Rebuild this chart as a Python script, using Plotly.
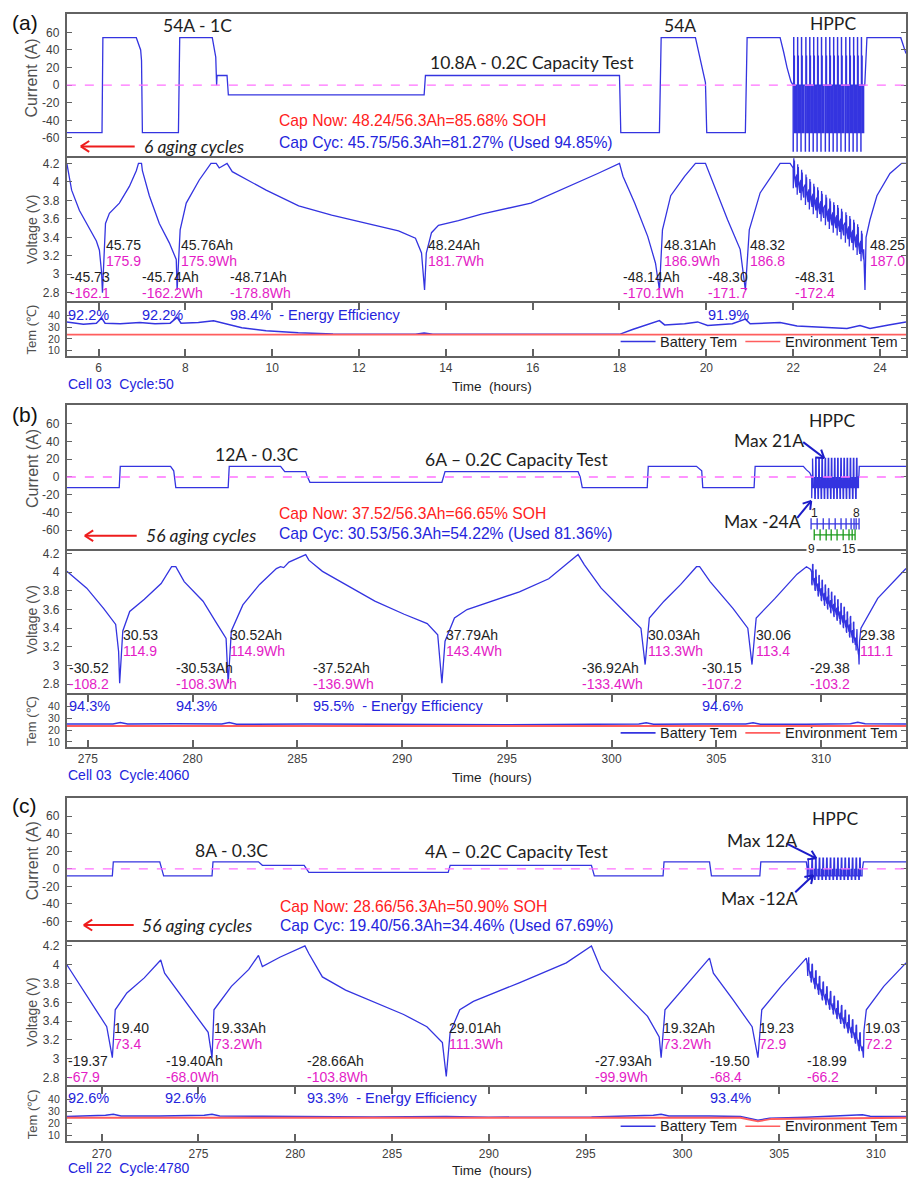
import math
import plotly.graph_objects as go

W, H = 908, 1180
LEFT = 67
ARIAL = "Liberation Sans, Arial, sans-serif"
CAL = "Lato, Carlito, Calibri, sans-serif"
FRAME = "#626262"
BLUE = "#3434e0"
RED_LINE = "#ff5e5e"
TXT_BLUE = "#2424dc"
TXT_RED = "#ff2020"
MAG = "#e41cc6"
DARK = "#1e1e1e"

# ======================= panel (a) data =======================
a_xrange = [5.27, 24.6]
a_vrange = [2.714, 4.254]
a_trange = [5.7, 51.1]
a_xticks = [6, 8, 10, 12, 14, 16, 18, 20, 22, 24]

a_cur_t = [5.27, 6.08, 6.10, 6.87, 6.97, 6.99, 7.01, 7.84, 7.87, 8.62, 8.70, 8.72, 8.73, 8.96, 8.99,
           13.50, 13.53, 18.00, 18.03, 18.92, 18.96, 19.75, 19.82, 19.90, 19.98, 20.01, 20.90, 20.94,
           21.70, 21.78, 21.86, 21.95]
a_cur_v = [-54, -54, 54, 54, 40, 28, -54, -54, 54, 54, 32, 0, 11, 11, -11,
           -11, 11, 11, -54, -54, 54, 54, 38, 20, 3, -54, -54, 54,
           54, 38, 20, 4]
a_hppc_t = [22.00, 22.09, 22.18, 22.28, 22.37, 22.46, 22.55, 22.64, 22.74, 22.83, 22.92, 23.01,
            23.10, 23.20, 23.29, 23.38, 23.47, 23.56]
a_hppc_base = [4.15, 4.08, 4.02, 3.97, 3.92, 3.87, 3.83, 3.79, 3.75, 3.71, 3.67, 3.64,
               3.60, 3.56, 3.52, 3.48, 3.43, 3.36, 3.30]
a_pulse_dt = [0, 0, 0.004, 0.004, 0.012, 0.012, 0.016, 0.016, 0.024, 0.024, 0.030, 0.030, 0.035, 0.035, 0.065, 0.065]
a_pulse_i = [0, -75, -75, 0, 0, 54, 54, 0, 0, 33, 33, 0, 0, -54, -54, 0]
a_pulse_vdt = [0, 0, 0.004, 0.004, 0.012, 0.012, 0.016, 0.016, 0.024, 0.024, 0.030, 0.030, 0.035]
a_pulse_dv = [0, -0.20, -0.22, -0.04, -0.02, 0.10, 0.11, 0.03, 0.02, 0.07, 0.08, 0.02, -0.10]
a_cur_tail_t = [23.65, 23.70, 24.48, 24.6]
a_cur_tail_v = [0, 54, 54, 36]

a_volt_t = [5.27, 5.38, 5.56, 5.79, 5.95, 6.02, 6.07, 6.09, 6.14, 6.16, 6.25, 6.48, 6.71, 6.87, 6.92,
            6.99, 7.01, 7.17, 7.40, 7.63, 7.79, 7.81, 7.88, 8.02, 8.32, 8.59, 8.71, 8.78, 8.96, 9.08,
            9.86, 10.61, 11.37, 12.15, 12.91, 13.30, 13.44, 13.51, 13.55, 13.67, 13.83, 14.29, 14.82,
            15.96, 16.74, 17.50, 18.00, 18.08, 18.35, 18.65, 18.83, 18.92, 18.99, 19.18, 19.50, 19.75,
            19.98, 20.19, 20.49, 20.78, 20.90, 20.99, 21.24, 21.70, 21.93]
a_volt_v = [4.20, 3.91, 3.69, 3.50, 3.36, 3.26, 3.02, 2.80, 3.23, 3.55, 3.66, 3.77, 3.95, 4.12, 4.20,
            4.20, 4.12, 3.85, 3.55, 3.34, 3.16, 2.83, 3.48, 3.77, 4.02, 4.20, 4.20, 4.15, 4.20, 4.11,
            3.91, 3.74, 3.64, 3.55, 3.47, 3.39, 3.23, 2.83, 3.23, 3.45, 3.53, 3.58, 3.65,
            3.77, 3.93, 4.09, 4.20, 4.06, 3.77, 3.41, 3.12, 2.83, 3.48, 3.85, 4.06, 4.20,
            4.20, 3.95, 3.59, 3.27, 2.83, 3.48, 3.88, 4.20, 4.20]
a_volt_tail_t = [23.63, 23.655, 23.68, 23.77, 23.93, 24.23, 24.50, 24.6]
a_volt_tail_v = [3.20, 2.83, 3.40, 3.59, 3.85, 4.09, 4.20, 4.20]

a_bt_t = [5.27, 5.65, 5.95, 6.07, 6.15, 6.5, 6.95, 7.3, 7.65, 7.81, 7.9, 8.3, 8.65, 8.9, 9.3, 9.86,
          10.6, 11.4, 12.5, 13.3, 13.5, 13.7, 15.0, 17.0, 18.0, 18.3, 18.65, 18.92, 19.04, 19.5,
          19.8, 20.03, 20.6, 20.9, 21.01, 21.7, 22.09, 22.7, 23.24, 23.54, 23.77, 24.2, 24.6]
a_bt_v = [34.5, 32.6, 33.5, 38, 33.5, 33, 34, 33, 33.5, 38.5, 33.5, 34, 35.5, 33, 29.5, 27,
          25.2, 24.2, 23.9, 24, 25, 24, 23.9, 23.9, 23.9, 28, 32, 35.7, 32, 33,
          34.6, 31.5, 33, 37, 33, 34, 31, 30, 29, 31.5, 29, 32, 34.5]
a_env_t = [5.27, 24.6]
a_env_v = [23.7, 23.7]

# ======================= panel (b) data =======================
b_xrange = [274.0, 314.05]
b_vrange = [2.704, 4.232]
b_trange = [5.8, 50.0]
b_xticks = [275, 280, 285, 290, 295, 300, 305, 310]

b_cur_t = [274.0, 276.5, 276.55, 278.95, 279.1, 279.2, 281.7, 281.75, 284.2, 284.4, 285.4, 285.45,
           285.6, 291.9, 292.05, 298.4, 298.5, 298.6, 301.7, 301.75, 304.05, 304.3, 304.35, 306.8,
           306.85, 309.15, 309.3, 309.45]
b_cur_v = [-12, -12, 12, 12, 7, -12, -12, 12, 12, 6, 6, 2,
           -6, -6, 6, 6, 0, -12, -12, 12, 12, 7, -12, -12,
           12, 12, 8, 5]
b_hppc_t = [309.55, 309.70, 309.85, 310.00, 310.15, 310.30, 310.45, 310.60, 310.75, 310.90,
            311.05, 311.20, 311.35, 311.50, 311.65]
b_hppc_base = [4.00, 3.94, 3.88, 3.83, 3.78, 3.74, 3.70, 3.66, 3.62, 3.58, 3.54, 3.49, 3.44, 3.38, 3.30, 3.20]
b_pulse_dt = [0, 0, 0.02, 0.02, 0.04, 0.04, 0.06, 0.06, 0.07, 0.07, 0.13, 0.13]
b_pulse_i = [0, -24, -24, 0, 0, 21, 21, 0, 0, -12, -12, 0]
b_pulse_vdt = [0, 0, 0.02, 0.02, 0.04, 0.04, 0.06, 0.06, 0.07, 0.07]
b_pulse_dv = [0, -0.12, -0.14, -0.03, -0.01, 0.08, 0.09, 0.02, 0.01, -0.06]
b_cur_tail_t = [311.80, 311.82, 314.05]
b_cur_tail_v = [0, 12, 12]

b_volt_t = [274.0, 274.95, 275.76, 276.33, 276.47, 276.52, 276.67, 277.0, 277.7, 278.5,
            279.0, 279.2, 279.6, 280.5, 281.1, 281.6, 281.7, 281.85, 282.4, 283.2,
            284.0, 284.2, 284.35, 284.6, 285.4, 285.55, 286.2, 287.3, 288.7, 290.1,
            291.2, 291.7, 291.9, 292.05, 292.5, 293.1, 295.6, 297.0, 298.4, 298.7,
            299.5, 300.6, 301.4, 301.6, 301.8, 302.5, 303.3, 304.05, 304.2, 304.7,
            305.8, 306.5, 306.7, 306.9, 307.8, 308.85, 309.3, 309.5]
b_volt_v = [4.01, 3.83, 3.61, 3.44, 3.15, 2.81, 3.37, 3.58, 3.71, 3.88,
            4.06, 4.06, 3.90, 3.69, 3.47, 3.29, 2.81, 3.37, 3.65, 3.87,
            4.04, 4.06, 4.05, 4.11, 4.19, 4.13, 4.01, 3.87, 3.69, 3.55,
            3.45, 3.33, 2.81, 3.26, 3.51, 3.60, 3.79, 3.93, 4.19, 4.08,
            3.83, 3.58, 3.40, 3.01, 3.51, 3.69, 3.87, 4.06, 4.06, 3.90,
            3.61, 3.40, 3.01, 3.51, 3.72, 3.98, 4.06, 4.03]
b_volt_tail_t = [311.79, 311.81, 311.83, 311.90, 312.70, 314.05]
b_volt_tail_v = [3.10, 3.01, 3.25, 3.40, 3.72, 4.04]

b_bt_t = [274.0, 276.2, 276.55, 276.9, 279.2, 281.4, 281.75, 282.1, 285.5, 290.0, 291.9, 295.0,
          298.4, 301.3, 301.65, 302.0, 304.3, 306.4, 306.75, 307.1, 309.3, 311.4, 311.75, 312.1, 314.05]
b_bt_v = [25.2, 25.3, 26.5, 25.2, 25.5, 25.3, 26.6, 25.0, 25.3, 24.5, 24.8, 24.6,
          25.0, 25.2, 26.3, 25.0, 25.3, 25.2, 26.3, 25.0, 25.0, 25.5, 26.8, 25.5, 25.3]
b_env_t = [274.0, 314.05]
b_env_v = [23.6, 23.6]
b_mark1_t = [309.52, 309.81, 310.10, 310.38, 310.67, 310.95, 311.19, 311.43, 311.57, 311.67, 311.81]
b_mark2_t = [309.67, 309.95, 310.24, 310.48, 310.76, 311.05, 311.33, 311.48, 311.62]

# ======================= panel (c) data =======================
c_xrange = [268.2, 311.55]
c_vrange = [2.715, 4.242]
c_trange = [5.1, 49.7]
c_xticks = [270, 275, 280, 285, 290, 295, 300, 305, 310]

c_cur_t = [268.2, 270.55, 270.6, 273.0, 273.2, 275.7, 275.75, 278.1, 278.3, 280.46, 280.7, 287.9,
           288.0, 295.3, 295.45, 299.0, 299.05, 301.4, 301.5, 304.0, 304.05, 306.4]
c_cur_v = [-8, -8, 8, 8, -8, -8, 8, 8, 4, 4, -4, -4,
           4, 4, -8, -8, 8, 8, -8, -8, 8, 8]
c_hppc_t = [306.45, 306.64, 306.83, 307.02, 307.21, 307.40, 307.59, 307.78, 307.97, 308.16,
            308.35, 308.54, 308.73, 308.92, 309.11]
c_hppc_base = [4.00, 3.93, 3.86, 3.80, 3.74, 3.69, 3.64, 3.59, 3.54, 3.49, 3.44, 3.39, 3.34, 3.28, 3.20, 3.15]
c_pulse_dt = [0, 0, 0.025, 0.025, 0.05, 0.05, 0.075, 0.075, 0.09, 0.09, 0.17, 0.17]
c_pulse_i = [0, -12, -12, 0, 0, 12, 12, 0, 0, -8, -8, 0]
c_pulse_vdt = [0, 0, 0.025, 0.025, 0.05, 0.05, 0.075, 0.075, 0.09, 0.09]
c_pulse_dv = [0, -0.10, -0.12, -0.03, -0.01, 0.07, 0.08, 0.02, 0.01, -0.05]
c_cur_tail_t = [309.30, 309.35, 311.55]
c_cur_tail_v = [0, 8, 8]

c_volt_t = [268.2, 268.9, 269.7, 270.26, 270.55, 270.7, 271.3, 272.2, 272.9, 273.05,
            273.25, 274.0, 274.9, 275.5, 275.7, 275.8, 276.7, 277.6, 278.1, 278.3,
            279.2, 280.5, 280.7, 281.4, 282.6, 284.1, 285.6, 286.8, 287.6, 287.8,
            288.0, 288.5, 289.2, 291.6, 294.0, 295.3, 295.8, 297.0, 298.2, 298.8,
            298.9, 299.1, 300.0, 300.9, 301.4, 301.6, 302.6, 303.6, 303.9, 304.1,
            305.1, 306.1, 306.4]
c_volt_v = [4.00, 3.77, 3.52, 3.34, 3.01, 3.52, 3.70, 3.86, 4.02, 4.05,
            3.91, 3.70, 3.45, 3.28, 3.01, 3.52, 3.77, 3.95, 4.10, 3.98,
            4.08, 4.20, 4.12, 3.87, 3.73, 3.60, 3.47, 3.34, 3.17, 2.81,
            3.28, 3.52, 3.61, 3.81, 4.02, 4.20, 3.95, 3.70, 3.45, 3.23,
            3.01, 3.52, 3.73, 3.95, 4.07, 3.91, 3.63, 3.34, 3.01, 3.52,
            3.77, 4.00, 4.07]
c_volt_tail_t = [309.30, 309.35, 309.38, 309.50, 310.40, 311.55]
c_volt_tail_v = [3.12, 3.01, 3.30, 3.52, 3.77, 4.02]

c_bt_t = [268.2, 270.2, 270.6, 271.0, 273.0, 275.3, 275.7, 276.1, 278.3, 280.5, 284.0, 287.8, 290.0,
          295.3, 298.5, 298.9, 299.3, 301.4, 303.0, 303.9, 304.5, 306.4, 308.5, 309.3, 309.7, 311.55]
c_bt_v = [25.5, 26.5, 27.5, 26.0, 26.0, 26.5, 27.5, 26.0, 25.8, 25.5, 25.2, 25.5, 25.0,
          25.2, 26.5, 27.5, 26.0, 26.0, 25.5, 22.5, 24.0, 25.0, 26.0, 27.0, 25.8, 25.5]
c_env_t = [268.2, 303.0, 303.9, 304.6, 311.55]
c_env_v = [24.5, 24.5, 21.5, 23.5, 24.5]

# ======================= text data =======================
a_volt_labels = [("45.75", 105, 242, DARK), ("175.9", 105, 258, MAG), ("-45.73", 69, 274, DARK), ("-162.1", 69, 290, MAG),
                 ("45.76Ah", 180, 242, DARK), ("175.9Wh", 180, 258, MAG), ("-45.74Ah", 141, 274, DARK), ("-162.2Wh", 141, 290, MAG),
                 ("-48.71Ah", 230, 274, DARK), ("-178.8Wh", 230, 290, MAG), ("48.24Ah", 428, 242, DARK), ("181.7Wh", 428, 258, MAG),
                 ("-48.14Ah", 623, 274, DARK), ("-170.1Wh", 623, 290, MAG), ("48.31Ah", 664, 242, DARK), ("186.9Wh", 664, 258, MAG),
                 ("-48.30", 709, 274, DARK), ("-171.7", 709, 290, MAG), ("48.32", 751, 242, DARK), ("186.8", 751, 258, MAG),
                 ("-48.31", 796, 274, DARK), ("-172.4", 796, 290, MAG), ("48.25", 871, 242, DARK), ("187.0", 871, 258, MAG)]
a_eff_labels = [("92.2%", 67, 312), ("92.2%", 141, 312), ("98.4%  - Energy Efficiency", 230, 312), ("91.9%", 709, 312)]

b_volt_labels = [("30.53", 122, 634, DARK), ("114.9", 122, 650, MAG), ("-30.52", 68, 667, DARK), ("-108.2", 68, 683, MAG),
                 ("30.52Ah", 230, 634, DARK), ("114.9Wh", 230, 650, MAG), ("-30.53Ah", 175, 667, DARK), ("-108.3Wh", 175, 683, MAG),
                 ("37.79Ah", 446, 634, DARK), ("143.4Wh", 446, 650, MAG), ("-37.52Ah", 313, 667, DARK), ("-136.9Wh", 313, 683, MAG),
                 ("30.03Ah", 648, 634, DARK), ("113.3Wh", 648, 650, MAG), ("-36.92Ah", 582, 667, DARK), ("-133.4Wh", 582, 683, MAG),
                 ("30.06", 757, 634, DARK), ("113.4", 757, 650, MAG), ("-30.15", 703, 667, DARK), ("-107.2", 703, 683, MAG),
                 ("29.38", 861, 634, DARK), ("111.1", 861, 650, MAG), ("-29.38", 811, 667, DARK), ("-103.2", 811, 683, MAG)]
b_eff_labels = [("94.3%", 68, 705), ("94.3%", 175, 705), ("95.5%  - Energy Efficiency", 313, 705), ("94.6%", 703, 705)]

c_volt_labels = [("19.40", 113, 1028, DARK), ("73.4", 113, 1044, MAG), ("-19.37", 67, 1061, DARK), ("-67.9", 67, 1078, MAG),
                 ("19.33Ah", 213, 1028, DARK), ("73.2Wh", 213, 1044, MAG), ("-19.40Ah", 165, 1061, DARK), ("-68.0Wh", 165, 1078, MAG),
                 ("-28.66Ah", 307, 1061, DARK), ("-103.8Wh", 307, 1078, MAG), ("29.01Ah", 449, 1028, DARK), ("111.3Wh", 449, 1044, MAG),
                 ("-27.93Ah", 595, 1061, DARK), ("-99.9Wh", 595, 1078, MAG), ("19.32Ah", 663, 1028, DARK), ("73.2Wh", 663, 1044, MAG),
                 ("-19.50", 711, 1061, DARK), ("-68.4", 711, 1078, MAG), ("19.23", 760, 1028, DARK), ("72.9", 760, 1044, MAG),
                 ("-18.99", 808, 1061, DARK), ("-66.2", 808, 1078, MAG), ("19.03", 866, 1028, DARK), ("72.2", 866, 1044, MAG)]
c_eff_labels = [("92.6%", 67, 1099), ("92.6%", 164, 1099), ("93.3%  - Energy Efficiency", 307, 1099), ("93.4%", 711, 1099)]

# ======================= helpers =======================
def px(x):
    return x / W


def py(y):
    return 1 - y / H


def pulse_current(times, dts, levels):
    xs, ys = [], []
    for t in times:
        xs.extend(t + d for d in dts)
        ys.extend(levels)
    return xs, ys


def pulse_voltage(times, bases, dts, dvs, step_dt, step_dv, settle_dv):
    xs, ys = [], []
    for k, t in enumerate(times):
        v, vn = bases[k], bases[k + 1]
        xs.extend(t + d for d in dts)
        ys.extend(v + d for d in dvs)
        xs += [t + step_dt, t + step_dt]
        ys += [vn + step_dv, vn + settle_dv]
    return xs, ys


fig = go.Figure()
ann = []
shapes = []


def text(s, x, y, color=DARK, size=14, family=ARIAL, xanchor="left"):
    ann.append(dict(text=s, x=px(x), y=py(y), xref="paper", yref="paper", xanchor=xanchor,
                    yanchor="middle", showarrow=False, borderpad=0,
                    font=dict(family=family, size=size, color=color)))


def line_px(x0, y0, x1, y1, color, width):
    shapes.append(dict(type="line", xref="paper", yref="paper", x0=px(x0), y0=py(y0), x1=px(x1), y1=py(y1),
                       line=dict(color=color, width=width)))


def arrow(x0, y0, x1, y1, color, width=2, head=9):
    line_px(x0, y0, x1, y1, color, width)
    ang = math.atan2(y1 - y0, x1 - x0)
    for s in (1, -1):
        a = ang + math.pi + s * math.radians(33)
        line_px(x1, y1, x1 + head * math.cos(a), y1 + head * math.sin(a), color, width)


def legend(y):
    line_px(622, y, 657, y, BLUE, 1.6)
    text("Battery Tem", 660, y, DARK, 14.5)
    line_px(747, y, 782, y, RED_LINE, 1.6)
    text("Environment Tem", 786, y, DARK, 14.5)


rows = {
    "a": [(10, 153), (155, 298), (300, 353)],
    "b": [(403, 547), (549, 692), (694, 746)],
    "c": [(797, 940), (942, 1086), (1088, 1142)],
}

panels = [
    dict(key="a", xr=a_xrange, vr=a_vrange, tr=a_trange, xt=a_xticks,
         cur=pulse_current(a_hppc_t, a_pulse_dt, a_pulse_i),
         volt=pulse_voltage(a_hppc_t, a_hppc_base, a_pulse_vdt, a_pulse_dv, 0.065, -0.14, -0.03),
         c0=(a_cur_t, a_cur_v), c1=(a_cur_tail_t, a_cur_tail_v),
         v0=(a_volt_t, a_volt_v), v1=(a_volt_tail_t, a_volt_tail_v),
         bt=(a_bt_t, a_bt_v), env=(a_env_t, a_env_v)),
    dict(key="b", xr=b_xrange, vr=b_vrange, tr=b_trange, xt=b_xticks,
         cur=pulse_current(b_hppc_t, b_pulse_dt, b_pulse_i),
         volt=pulse_voltage(b_hppc_t, b_hppc_base, b_pulse_vdt, b_pulse_dv, 0.13, -0.08, -0.02),
         c0=(b_cur_t, b_cur_v), c1=(b_cur_tail_t, b_cur_tail_v),
         v0=(b_volt_t, b_volt_v), v1=(b_volt_tail_t, b_volt_tail_v),
         bt=(b_bt_t, b_bt_v), env=(b_env_t, b_env_v)),
    dict(key="c", xr=c_xrange, vr=c_vrange, tr=c_trange, xt=c_xticks,
         cur=pulse_current(c_hppc_t, c_pulse_dt, c_pulse_i),
         volt=pulse_voltage(c_hppc_t, c_hppc_base, c_pulse_vdt, c_pulse_dv, 0.17, -0.07, -0.02),
         c0=(c_cur_t, c_cur_v), c1=(c_cur_tail_t, c_cur_tail_v),
         v0=(c_volt_t, c_volt_v), v1=(c_volt_tail_t, c_volt_tail_v),
         bt=(c_bt_t, c_bt_v), env=(c_env_t, c_env_v)),
]

layout_axes = {}
tickfont = dict(family=ARIAL, size=12, color="#404040")
tickfont_small = dict(family=ARIAL, size=10.5, color="#404040")

for p, P in enumerate(panels):
    yr_list = [[-81, 81], P["vr"], P["tr"]]
    ytv = [[-60, -40, -20, 0, 20, 40, 60],
           [2.8, 3.0, 3.2, 3.4, 3.6, 3.8, 4.0, 4.2],
           [10, 20, 30, 40]]
    ytt = [["-60", "-40", "-20", "0", "20", "40", "60"],
           ["2.8", "3", "3.2", "3.4", "3.6", "3.8", "4", "4.2"],
           ["10", "20", "30", "40"]]
    for r in range(3):
        i = p * 3 + r + 1
        top, bot = rows[P["key"]][r]
        xa = dict(domain=[LEFT / W, 1.0], range=P["xr"], anchor=f"y{i}", showline=True,
                  linecolor=FRAME, linewidth=2, showgrid=False, zeroline=False)
        if r == 2:
            xa.update(mirror="ticks", ticks="inside", ticklen=7, tickwidth=1.5, tickcolor=FRAME,
                      tickvals=P["xt"], ticktext=[str(v) for v in P["xt"]], tickfont=tickfont,
                      ticklabelstandoff=0)
        else:
            xa.update(mirror=True, ticks="", showticklabels=False)
        ya = dict(domain=[py(bot), py(top)], range=yr_list[r], anchor=f"x{i}", showline=True,
                  mirror="ticks", linecolor=FRAME, linewidth=2, showgrid=False, zeroline=False,
                  ticks="inside", ticklen=5, tickwidth=1.2, tickcolor=FRAME,
                  tickvals=ytv[r], ticktext=ytt[r],
                  tickfont=tickfont_small if r == 2 else tickfont, ticklabelstandoff=3)
        layout_axes["xaxis" if i == 1 else f"xaxis{i}"] = xa
        layout_axes["yaxis" if i == 1 else f"yaxis{i}"] = ya

    ic, iv, it = p * 3 + 1, p * 3 + 2, p * 3 + 3
    xc = "x" if ic == 1 else f"x{ic}"
    yc = "y" if ic == 1 else f"y{ic}"
    cx = list(P["c0"][0]) + P["cur"][0] + list(P["c1"][0])
    cy = list(P["c0"][1]) + P["cur"][1] + list(P["c1"][1])
    vx = list(P["v0"][0]) + P["volt"][0] + list(P["v1"][0])
    vy = list(P["v0"][1]) + P["volt"][1] + list(P["v1"][1])
    fig.add_trace(go.Scatter(x=cx, y=cy, mode="lines", line=dict(color=BLUE, width=1.3),
                             xaxis=xc, yaxis=yc, showlegend=False, name="Current"))
    fig.add_trace(go.Scatter(x=vx, y=vy, mode="lines", line=dict(color=BLUE, width=1.3),
                             xaxis=f"x{iv}", yaxis=f"y{iv}", showlegend=False, name="Voltage"))
    fig.add_trace(go.Scatter(x=P["bt"][0], y=P["bt"][1], mode="lines", line=dict(color=BLUE, width=1.5),
                             xaxis=f"x{it}", yaxis=f"y{it}", showlegend=False, name="Battery Tem"))
    fig.add_trace(go.Scatter(x=P["env"][0], y=P["env"][1], mode="lines", line=dict(color=RED_LINE, width=1.8),
                             xaxis=f"x{it}", yaxis=f"y{it}", showlegend=False, name="Environment Tem"))
    shapes.append(dict(type="line", xref=f"{xc} domain", yref=yc, x0=0, x1=1, y0=0, y1=0,
                       line=dict(color="#ff70ff", width=1.3, dash="dash")))

# HPPC pulse markers in panel (b)
fig.add_trace(go.Scatter(x=b_mark1_t, y=[-53] * len(b_mark1_t), mode="lines+markers",
                         line=dict(color=BLUE, width=1.3),
                         marker=dict(symbol="line-ns-open", size=8, color=BLUE, line=dict(width=1.3, color=BLUE)),
                         xaxis="x4", yaxis="y4", showlegend=False))
fig.add_trace(go.Scatter(x=b_mark2_t, y=[-65.5] * len(b_mark2_t), mode="lines+markers",
                         line=dict(color="#1a9a1a", width=1.3),
                         marker=dict(symbol="line-ns-open", size=8, color="#1a9a1a", line=dict(width=1.3, color="#1a9a1a")),
                         xaxis="x4", yaxis="y4", showlegend=False))

# ---------------- texts ----------------
for s, yy in (("(a)", 19), ("(b)", 412), ("(c)", 805)):
    text(s, 11, yy, "#111", 21)

ytitles = [("Current (A)", 74, 16), ("Voltage (V)", 226, 14), ("Tem (℃)", 327, 13),
           ("Current (A)", 466, 16), ("Voltage (V)", 618, 14), ("Tem (℃)", 720, 13),
           ("Current (A)", 860, 16), ("Voltage (V)", 1012, 14), ("Tem (℃)", 1115, 13)]
for s, yy, sz in ytitles:
    ann.append(dict(text=s, x=px(32), y=py(yy), xref="paper", yref="paper", textangle=-90,
                    xanchor="center", yanchor="middle", showarrow=False,
                    font=dict(family=ARIAL, size=sz, color="#505050")))

# panel (a)
text("54A - 1C", 198, 22, DARK, 17.5, CAL, "center")
text("10.8A - 0.2C Capacity Test", 430, 59, DARK, 17.5, CAL)
text("54A", 681, 22, DARK, 17.5, CAL, "center")
text("HPPC", 835, 20, DARK, 17.5, CAL, "center")
text("Cap Now: 48.24/56.3Ah=85.68% SOH", 279, 117, TXT_RED, 15.7)
text("Cap Cyc: 45.75/56.3Ah=81.27% (Used 94.85%)", 279, 139, TXT_BLUE, 15.7)
text("<i>6 aging cycles</i>", 143, 143, DARK, 17.5, CAL)
arrow(135, 143, 81, 143, "#ee1c1c", 2, 10)
for s, x, y, col in a_volt_labels:
    text(s, x, y, col, 14)
for s, x, y in a_eff_labels:
    text(s, x, y, TXT_BLUE, 14.5)
legend(339)
text("Cell 03  Cycle:50", 67, 382, TXT_BLUE, 14)
text("Time  (hours)", 493, 384, DARK, 13.5, ARIAL, "center")

# panel (b)
text("12A - 0.3C", 257, 452, DARK, 17.5, CAL, "center")
text("6A \u2013 0.2C Capacity Test", 425, 457, DARK, 17.5, CAL)
text("HPPC", 834, 418, DARK, 17.5, CAL, "center")
text("Max 21A", 735, 438, DARK, 17.5, CAL)
arrow(805, 440, 826, 456, "#1c1cc8", 2, 9)
text("Max -24A", 725, 520, DARK, 17.5, CAL)
arrow(799, 516, 813, 499, "#1c1cc8", 2, 9)
text("1", 816, 511, DARK, 12, ARIAL, "center")
text("8", 858, 511, DARK, 12, ARIAL, "center")
ann.append(dict(text="9", x=px(819), y=py(547), xref="paper", yref="paper", showarrow=False,
                bgcolor="white", font=dict(family=ARIAL, size=12, color=DARK)))
ann.append(dict(text="15", x=px(860), y=py(547), xref="paper", yref="paper", showarrow=False,
                bgcolor="white", font=dict(family=ARIAL, size=12, color=DARK)))
text("Cap Now: 37.52/56.3Ah=66.65% SOH", 279, 512, TXT_RED, 15.7)
text("Cap Cyc: 30.53/56.3Ah=54.22% (Used 81.36%)", 279, 532, TXT_BLUE, 15.7)
text("<i>56 aging cycles</i>", 145, 534, DARK, 17.5, CAL)
arrow(137, 534, 85, 534, "#ee1c1c", 2, 10)
for s, x, y, col in b_volt_labels:
    text(s, x, y, col, 14)
for s, x, y in b_eff_labels:
    text(s, x, y, TXT_BLUE, 14.5)
legend(732)
text("Cell 03  Cycle:4060", 67, 774, TXT_BLUE, 14)
text("Time  (hours)", 493, 777, DARK, 13.5, ARIAL, "center")

# panel (c)
text("8A - 0.3C", 232, 850, DARK, 17.5, CAL, "center")
text("4A \u2013 0.2C Capacity Test", 425, 851, DARK, 17.5, CAL)
text("HPPC", 837, 818, DARK, 17.5, CAL, "center")
text("Max 12A", 728, 840, DARK, 17.5, CAL)
arrow(788, 843, 818, 858, "#1c1cc8", 2, 9)
text("Max -12A", 722, 898, DARK, 17.5, CAL)
arrow(797, 892, 815, 875, "#1c1cc8", 2, 9)
text("Cap Now: 28.66/56.3Ah=50.90% SOH", 280, 906, TXT_RED, 15.7)
text("Cap Cyc: 19.40/56.3Ah=34.46% (Used 67.69%)", 280, 925, TXT_BLUE, 15.7)
text("<i>56 aging cycles</i>", 141, 925, DARK, 17.5, CAL)
arrow(134, 925, 84, 925, "#ee1c1c", 2, 10)
for s, x, y, col in c_volt_labels:
    text(s, x, y, col, 14)
for s, x, y in c_eff_labels:
    text(s, x, y, TXT_BLUE, 14.5)
legend(1127)
text("Cell 22  Cycle:4780", 67, 1169, TXT_BLUE, 14)
text("Time  (hours)", 493, 1171, DARK, 13.5, ARIAL, "center")

fig.update_layout(width=W, height=H, margin=dict(l=0, r=0, t=0, b=0, pad=0),
                  paper_bgcolor="white", plot_bgcolor="white", showlegend=False,
                  annotations=ann, shapes=shapes, **layout_axes)
fig.write_html("out.html", config={"displayModeBar": False},
               post_script="document.body.style.margin='0px';document.body.style.overflow='hidden';")
